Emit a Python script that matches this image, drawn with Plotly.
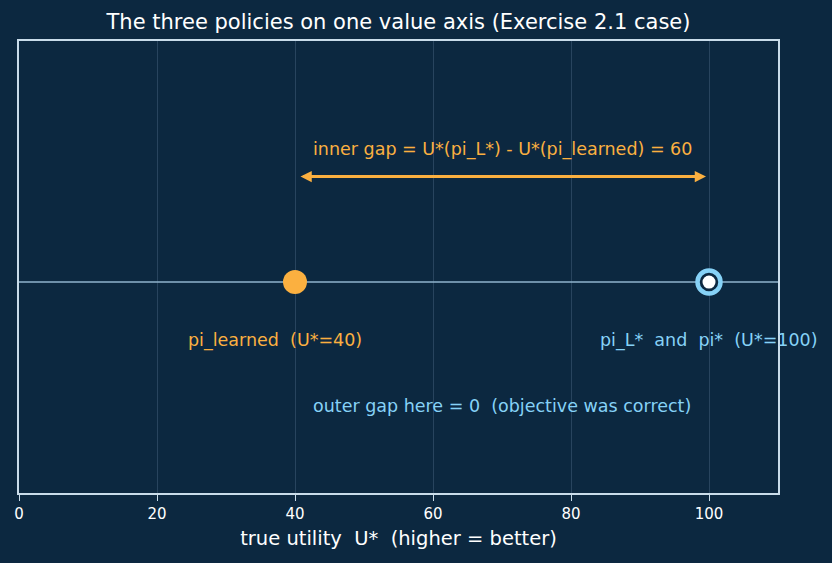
import plotly.graph_objects as go

# Data
policy_names = ["pi_learned", "pi_L*  and  pi*"]
policy_values = [40, 100]
inner_gap = policy_values[1] - policy_values[0]
x_ticks = [0, 20, 40, 60, 80, 100]

BG = "#0c2840"
ORANGE = "#fbb040"
BLUE = "#86d2f7"
SPINE = "#c9dcea"
FONT = "DejaVu Sans"

fig = go.Figure()

# horizontal value axis line
fig.add_trace(go.Scatter(x=[0, 110], y=[0, 0], mode="lines",
                         line=dict(color="#8fb3cc", width=1.5), hoverinfo="skip", showlegend=False))
# pi_learned
fig.add_trace(go.Scatter(x=[policy_values[0]], y=[0], mode="markers",
                         marker=dict(size=24, color=ORANGE, line=dict(width=0)), showlegend=False))
# pi_L* / pi* ring
fig.add_trace(go.Scatter(x=[policy_values[1]], y=[0], mode="markers",
                         marker=dict(size=23, color=BG, line=dict(width=4.5, color=BLUE)), showlegend=False))
fig.add_trace(go.Scatter(x=[policy_values[1]], y=[0], mode="markers",
                         marker=dict(size=13, color="white", line=dict(width=0)), showlegend=False))

# double arrow for inner gap
fig.add_annotation(x=policy_values[1], y=0.35, ax=policy_values[0], ay=0.35,
                   xref="x", yref="y", axref="x", ayref="y", text="",
                   showarrow=True, arrowhead=2, arrowside="end+start", arrowsize=0.75,
                   arrowwidth=3, arrowcolor=ORANGE, standoff=3, startstandoff=4)
fig.add_annotation(x=70, y=0.44, xref="x", yref="y",
                   text=f"inner gap = U*(pi_L*) - U*(pi_learned) = {inner_gap}",
                   showarrow=False, font=dict(family=FONT, size=17.5, color=ORANGE))
fig.add_annotation(x=37.1, y=-0.195, xref="x", yref="y",
                   text=f"{policy_names[0]}  (U*={policy_values[0]})",
                   showarrow=False, font=dict(family=FONT, size=17.5, color=ORANGE))
fig.add_annotation(x=policy_values[1], y=-0.195, xref="x", yref="y",
                   text=f"{policy_names[1]}  (U*={policy_values[1]})",
                   showarrow=False, font=dict(family=FONT, size=17.5, color=BLUE))
fig.add_annotation(x=70, y=-0.41, xref="x", yref="y",
                   text="outer gap here = 0  (objective was correct)",
                   showarrow=False, font=dict(family=FONT, size=17.5, color=BLUE))

fig.update_layout(
    width=832, height=563,
    paper_bgcolor=BG, plot_bgcolor=BG,
    margin=dict(l=19, r=54, t=41, b=70),
    title=dict(text="The three policies on one value axis (Exercise 2.1 case)",
               x=(19 + 778) / 2 / 832, xanchor="center", y=1 - 22 / 563, yanchor="middle",
               font=dict(family=FONT, size=21, color="white")),
    xaxis=dict(range=[0, 110], tickvals=x_ticks, ticks="outside", ticklen=6, tickcolor=SPINE,
               tickfont=dict(family=FONT, size=15, color="white"),
               showgrid=True, gridcolor="rgba(140,170,200,0.22)", gridwidth=1,
               showline=True, linecolor=SPINE, linewidth=1.5, mirror=True, zeroline=False,
               title=dict(text="true utility  U*  (higher = better)", standoff=10,
                          font=dict(family=FONT, size=19.5, color="white"))),
    yaxis=dict(range=[-0.7, 0.8], showticklabels=False, ticks="", showgrid=False,
               zeroline=False, showline=True, linecolor=SPINE, linewidth=1.5, mirror=True),
)

fig.write_html("out.html")
